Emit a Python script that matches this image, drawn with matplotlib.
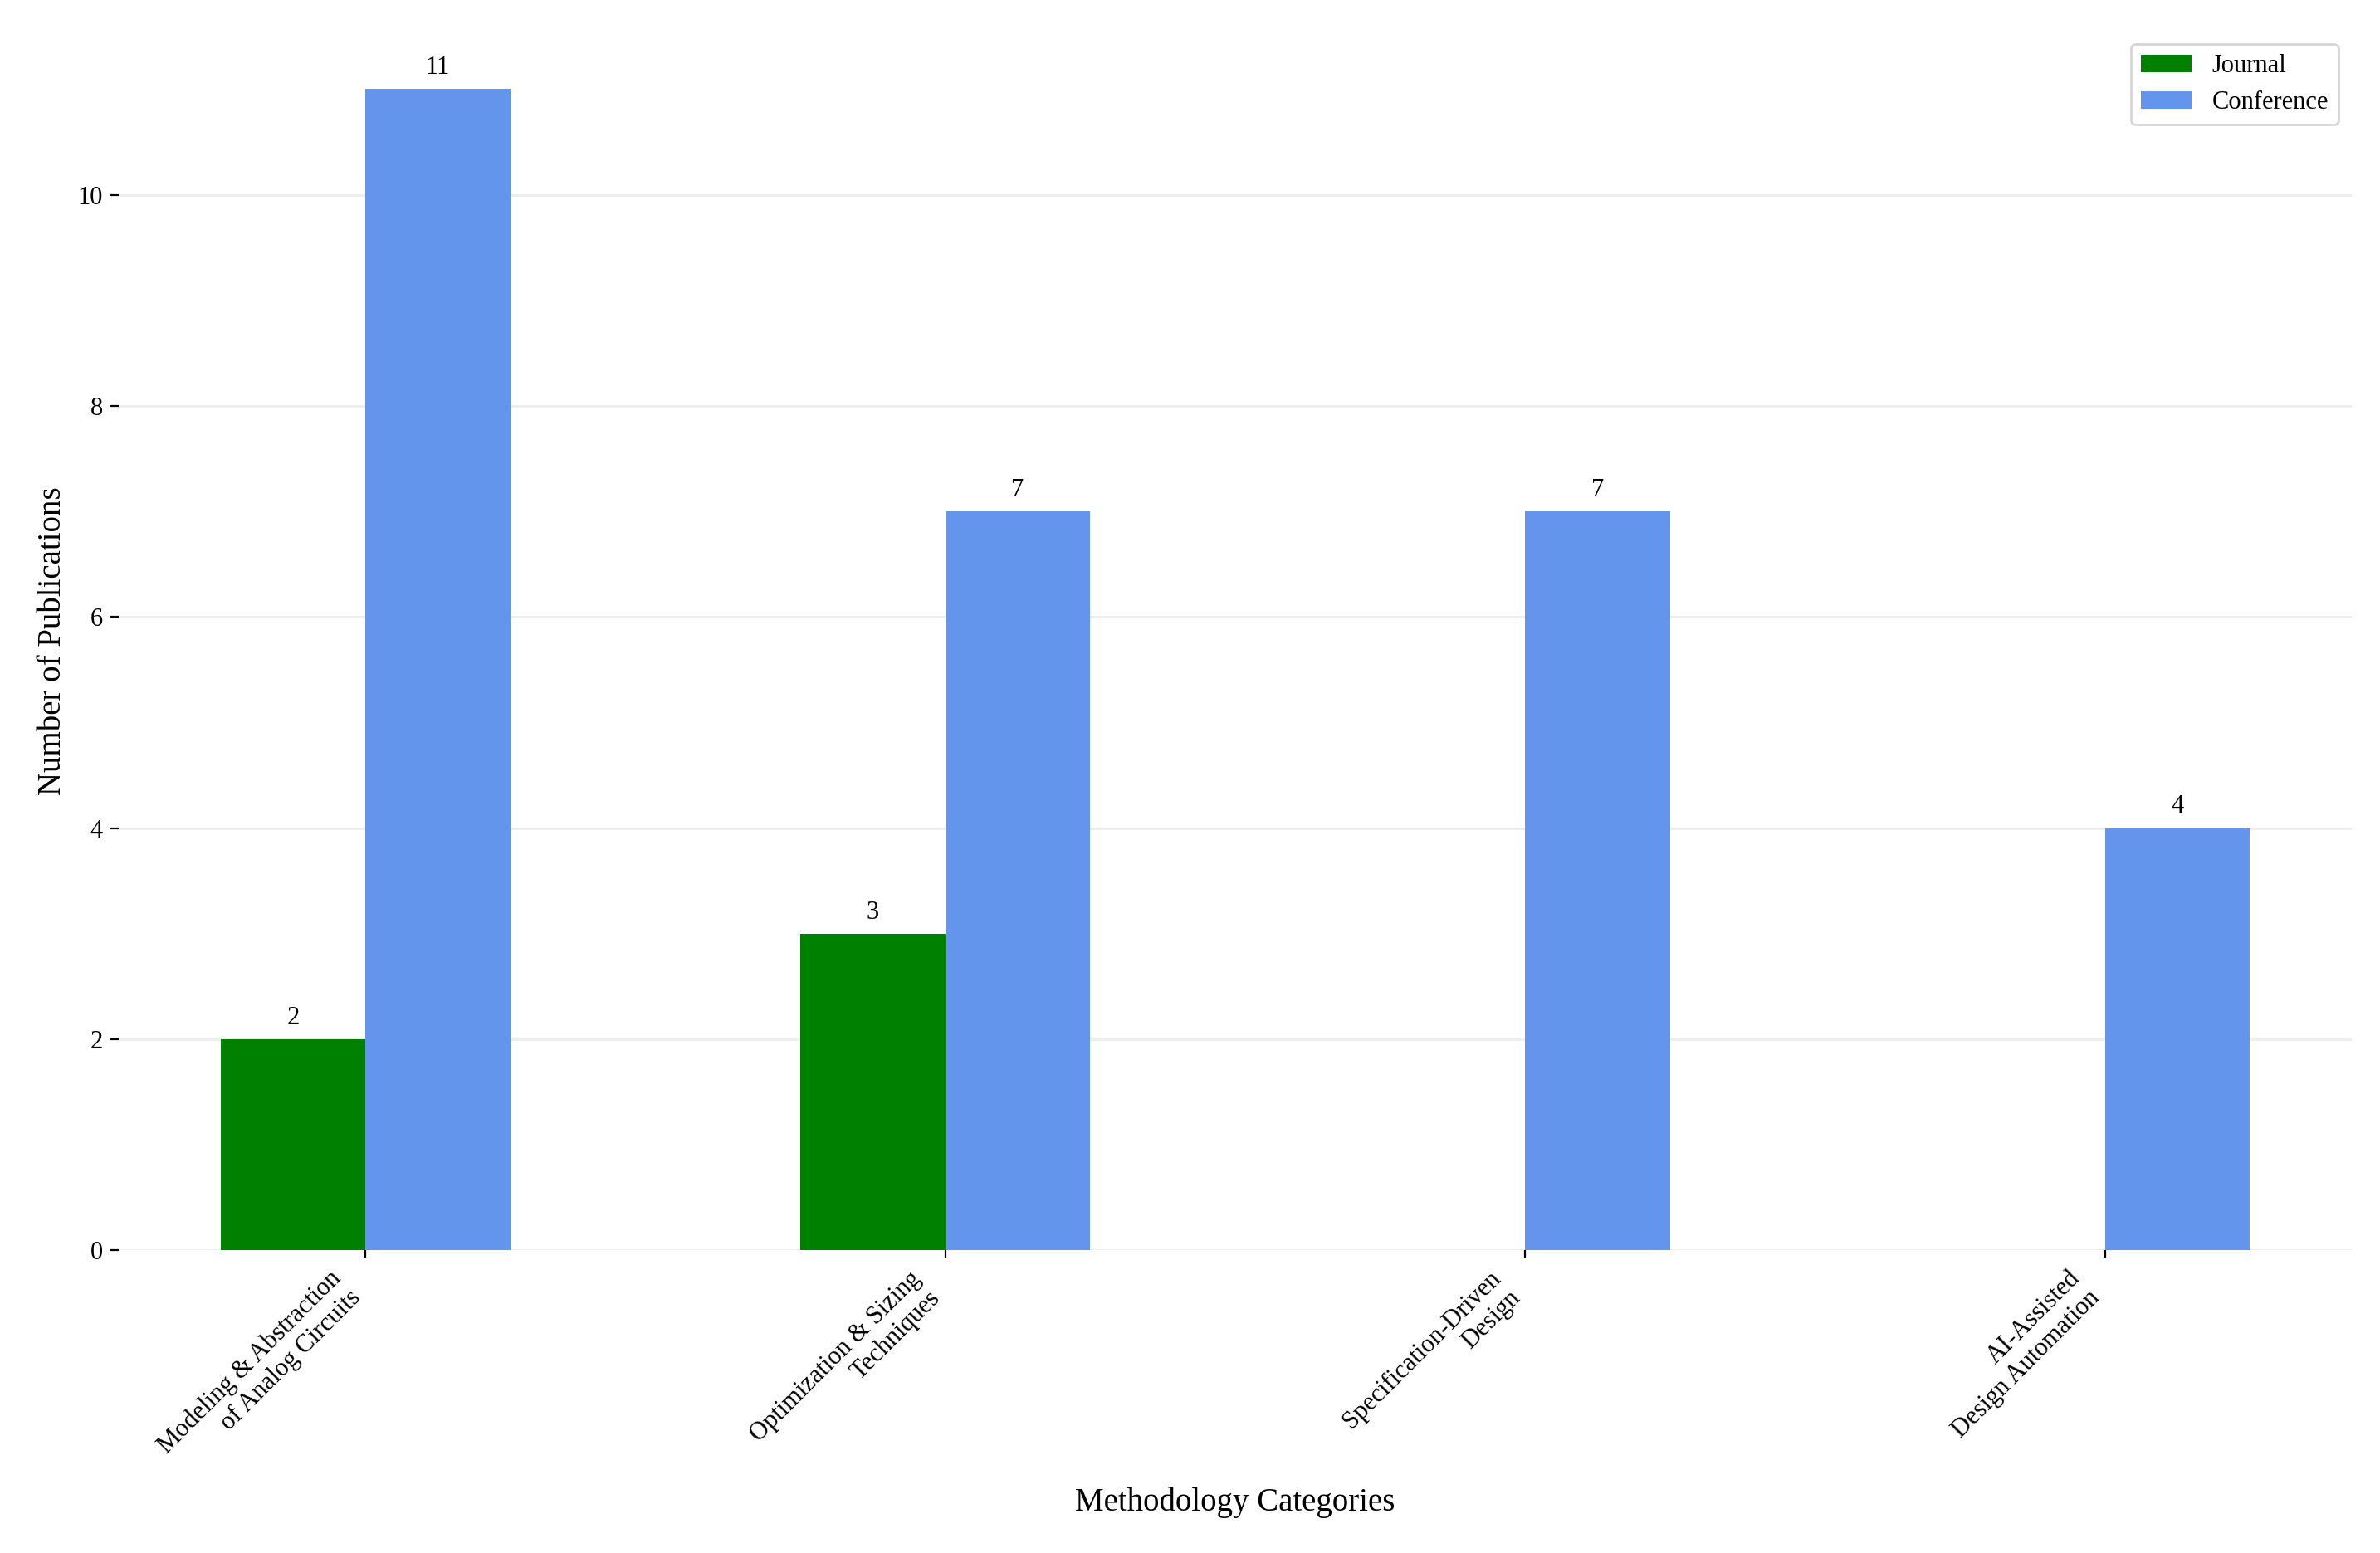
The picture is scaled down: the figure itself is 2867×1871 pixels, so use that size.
import matplotlib
matplotlib.use("Agg")
import matplotlib.pyplot as plt
import numpy as np

categories = ["Modeling & Abstraction\nof Analog Circuits", "Optimization & Sizing\nTechniques",
              "Specification-Driven\nDesign", "AI-Assisted\nDesign Automation"]
journal = [2, 3, 0, 0]
conference = [11, 7, 7, 4]

plt.rcParams['font.family'] = ['Liberation Serif', 'DejaVu Serif']
fig = plt.figure(figsize=(14.335, 9.355), dpi=200)
ax = fig.add_axes([0.050, 0.195, 0.938, 0.785])
x = np.arange(len(categories))
w = 0.25
b1 = ax.bar(x - w/2, journal, w, color='green', label='Journal')
b2 = ax.bar(x + w/2, conference, w, color='cornflowerblue', label='Conference')
for bars in (b1, b2):
    for r in bars:
        h = r.get_height()
        if h > 0:
            ax.annotate(f"{int(h)}", (r.get_x() + r.get_width()/2, h), xytext=(0, 4),
                        textcoords='offset points', ha='center', va='bottom', fontsize=11)
for s in ax.spines.values():
    s.set_visible(False)
ax.set_xticks(x)
ax.set_xticklabels(categories, rotation=45, ha='right', fontsize=11)
ax.tick_params(axis='y', labelsize=11)
ax.yaxis.grid(True, color='#eeeeee', linewidth=1)
ax.set_axisbelow(True)
ax.set_ylabel("Number of Publications", fontsize=14)
ax.set_xlabel("Methodology Categories", fontsize=14)
ax.legend(loc='upper right', fontsize=11)
fig.savefig("out.png", dpi=200)
